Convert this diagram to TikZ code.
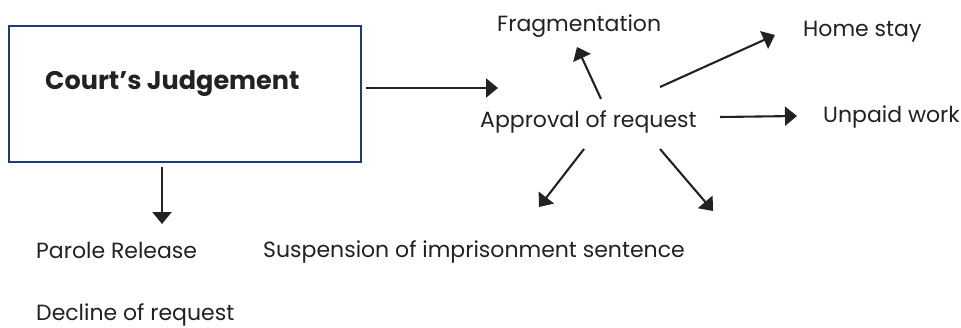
\documentclass[tikz,border=0pt]{standalone}
\usepackage{fontspec}
\setmainfont{Poppins}
\usetikzlibrary{arrows.meta}
\definecolor{boxblue}{HTML}{1E3A78}
\definecolor{ink}{HTML}{222222}
\begin{document}
\begin{tikzpicture}[x=1pt,y=-1pt,
  arr/.style={draw=ink, line width=2.1pt, -{Triangle[length=12pt,width=19pt]}},
  lbl/.style={text=ink, font=\fontsize{22}{26}\selectfont, inner sep=0pt, anchor=base west},
  title/.style={text=ink, font=\fontsize{25.5}{30}\selectfont\bfseries, inner sep=0pt, anchor=base west}]
\useasboundingbox (0,0) rectangle (961,327);
\fill[white] (0,0) rectangle (961,327);
\node[draw=boxblue, line width=2pt, minimum width=352pt, minimum height=136pt, inner sep=0pt] (judge) at (185,94) {};
\node[title] (jtxt) at (45,89) {Court’s Judgement};
\node[lbl] (appr) at (480,127) {Approval of request};
\node[lbl] (frag) at (497,31) {Fragmentation};
\node[lbl] (home) at (803,36) {Home stay};
\node[lbl] (unpaid) at (823,122) {Unpaid work};
\node[lbl] (susp) at (263,257) {Suspension of imprisonment sentence};
\node[lbl] (parole) at (36,258) {Parole Release};
\node[lbl] (decl) at (36,320) {Decline of request};
% connector end points
\coordinate (j-out) at (366,88);
\coordinate (j-tip) at (498,88);
\coordinate (f-out) at (601,99);
\coordinate (f-tip) at (577,47);
\coordinate (h-out) at (660,87);
\coordinate (h-tip) at (775,35);
\coordinate (u-out) at (720,117);
\coordinate (u-tip) at (797,116);
\coordinate (dl-out) at (584,149);
\coordinate (dl-tip) at (539,207);
\coordinate (dr-out) at (660,149);
\coordinate (dr-tip) at (713,211);
\coordinate (p-out) at (162,167);
\coordinate (p-tip) at (162,224);
\draw[arr] (j-out) -- (j-tip);
\draw[arr] (f-out) -- (f-tip);
\draw[arr] (h-out) -- (h-tip);
\draw[arr] (u-out) -- (u-tip);
\draw[arr] (dl-out) -- (dl-tip);
\draw[arr] (dr-out) -- (dr-tip);
\draw[arr] (p-out) -- (p-tip);
\end{tikzpicture}
\end{document}
